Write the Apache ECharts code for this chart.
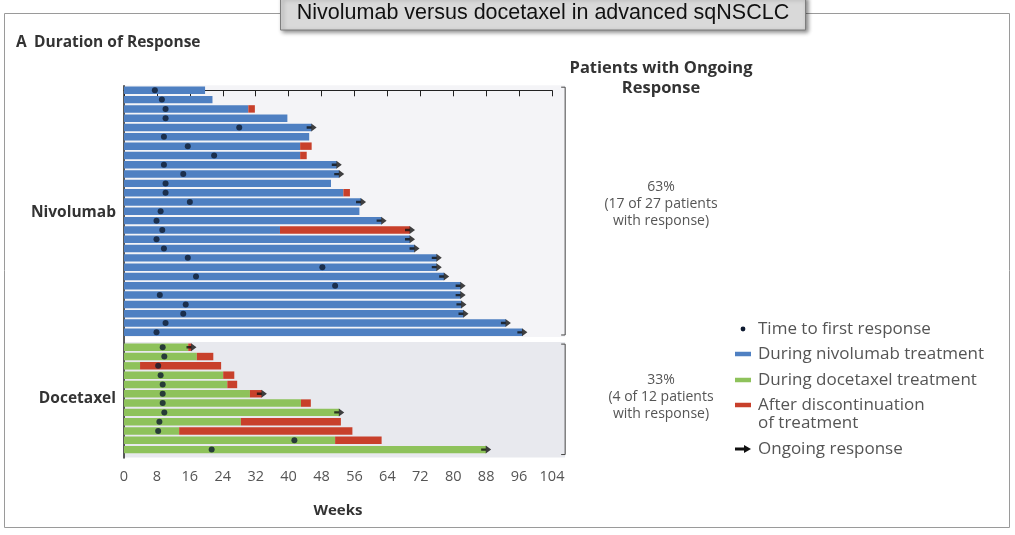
<!DOCTYPE html>
<html><head><meta charset="utf-8">
<script src="https://cdn.jsdelivr.net/npm/echarts@6/dist/echarts.min.js"></script>
<style>html,body{margin:0;padding:0;background:#fff}#c{width:1015px;height:535px}</style>
</head><body><div id="c"></div>
<script>
// ---- Nivolumab responders (27), top to bottom ----
const nivoFirstResponse = [7.5,9.2,10.1,10.1,28.0,9.7,15.5,21.9,9.7,14.4,10.1,10.1,16.0,8.9,7.9,9.3,7.9,9.7,15.5,48.2,17.5,51.3,8.7,15.0,14.4,10.1,7.9];
const nivoTreatmentEnd  = [19.7,21.5,30.2,39.7,45.6,45.0,42.8,42.8,51.7,52.3,50.3,53.3,57.6,57.2,62.6,37.9,69.5,70.6,76.0,76.0,77.8,81.8,81.8,82.0,82.5,92.8,96.8];
const nivoResponseEnd   = [19.7,21.5,31.8,39.7,45.6,45.0,45.6,44.4,51.7,52.3,50.3,54.9,57.6,57.2,62.6,69.5,69.5,70.6,76.0,76.0,77.8,81.8,81.8,82.0,82.5,92.8,96.8];
const nivoOngoing       = [0,0,0,0,1,0,0,0,1,1,0,0,1,0,1,1,1,1,1,1,1,1,1,1,1,1,1];
// ---- Docetaxel responders (12), top to bottom ----
const doceFirstResponse = [9.4,9.8,8.3,8.9,9.4,9.4,9.4,9.8,8.6,8.3,41.4,21.3];
const doceTreatmentEnd  = [15.6,17.7,3.9,24.1,25.1,30.6,43.0,52.3,28.4,13.4,51.3,88.0];
const doceResponseEnd   = [16.4,21.7,23.6,26.8,27.5,33.5,45.4,52.3,52.7,55.5,62.6,88.0];
const doceOngoing       = [1,0,0,0,0,1,0,1,0,0,0,1];
// ---- axis / text ----
const weekTicks = [0,8,16,24,32,40,48,56,64,72,80,88,96,104];
const groupLabels = ['Nivolumab','Docetaxel'];
const ongoingText = [['63%','(17 of 27 patients','with response)'],['33%','(4 of 12 patients','with response)']];
const legendLabels = ['Time to first response','During nivolumab treatment','During docetaxel treatment','After discontinuation\nof treatment','Ongoing response'];

const C_BLUE='#4f80c2', C_GREEN='#8ec25b', C_RED='#c8402b', C_DOT='#0e1a30';
const DOC_OFFSET = 27.6; // layout gap between the two groups, in row units

const barData=[], dotData=[], arrowData=[];
function addGroup(first, txEnd, respEnd, ongoing, offset, txColor){
  first.forEach((f,i)=>{
    const y = offset + i;
    barData.push([y, 0, txEnd[i], txColor]);
    if (respEnd[i] > txEnd[i]) barData.push([y, txEnd[i], respEnd[i], C_RED]);
    dotData.push([f, y]);
    if (ongoing[i]) arrowData.push([respEnd[i], y]);
  });
}
addGroup(nivoFirstResponse, nivoTreatmentEnd, nivoResponseEnd, nivoOngoing, 0, C_BLUE);
addGroup(doceFirstResponse, doceTreatmentEnd, doceResponseEnd, doceOngoing, DOC_OFFSET, C_GREEN);

const FONT = '"Open Sans", Lato, sans-serif';
const ARROW = 'path://M0,3.5 L6,3.5 L6,0 L13,5 L6,10 L6,6.5 L0,6.5 Z';

const chart = echarts.init(document.getElementById('c'));
chart.setOption({
  animation:false,
  backgroundColor:'#fff',
  grid:{left:124, width:428, top:85.65, height:372.35},
  xAxis:{type:'value', min:0, max:104, interval:8,
    axisLine:{lineStyle:{color:'#222', width:1}},
    axisTick:{length:6, lineStyle:{color:'#222'}},
    axisLabel:{color:'#555', fontSize:14.5, fontFamily:FONT, margin:11,
      formatter:v=>weekTicks.includes(v)?String(v):''},
    splitLine:{show:false},
    name:'Weeks', nameLocation:'middle', nameGap:45,
    nameTextStyle:{color:'#333', fontSize:15, fontWeight:'bold', fontFamily:FONT}},
  yAxis:{type:'value', inverse:true, min:-0.5, max:39.5,
    axisLine:{show:true, lineStyle:{color:'#222', width:1.5}},
    axisTick:{show:false}, axisLabel:{show:false}, splitLine:{show:false}},
  series:[
    {type:'custom', z:3, data:barData, encode:{x:[1,2], y:0},
      renderItem:(params, api)=>{
        const y=api.value(0), a=api.coord([api.value(1), y]), b=api.coord([api.value(2), y]);
        const h=api.size([0,1])[1]*0.8;
        return {type:'rect', shape:{x:a[0], y:a[1]-h/2, width:b[0]-a[0], height:h},
          style:{fill:barData[params.dataIndex][3]}};
      }},
    {type:'scatter', z:5, data:dotData, symbol:'circle', symbolSize:6,
      itemStyle:{color:C_DOT}},
    {type:'scatter', z:6, data:arrowData, symbol:ARROW, symbolSize:[10,8],
      itemStyle:{color:'#111'}}
  ]
});

// layout decorations placed through the axis scales
const px = (x,y)=>chart.convertToPixel({gridIndex:0},[x,y]);
const nTop=px(0,-0.55), nBot=px(107.2,26.5), dTop=px(0,27.05), dBot=px(107.2,39.45);
const nMid=px(0,13)[1], dMid=px(0,DOC_OFFSET+5.5)[1];
const g=[];
g.push({type:'rect', z:-10, shape:{x:4.5,y:13.5,width:1005,height:514}, style:{fill:'#fff',stroke:'#9a9a9a',lineWidth:1}});
g.push({type:'rect', z:-5, shape:{x:nTop[0],y:nTop[1],width:nBot[0]-nTop[0],height:nBot[1]-nTop[1]}, style:{fill:'#f4f4f7'}});
g.push({type:'rect', z:-5, shape:{x:dTop[0],y:dTop[1],width:dBot[0]-dTop[0],height:dBot[1]-dTop[1]}, style:{fill:'#e8e9ee'}});
[[nTop[1]+2,nBot[1]-2],[dTop[1]+2,dBot[1]-3]].forEach(([t,b])=>{
  const x=nBot[0];
  g.push({type:'polyline', z:10, shape:{points:[[x-4,t],[x,t],[x,b],[x-4,b]]}, style:{stroke:'#444',lineWidth:1,fill:null}});
});
// title box
g.push({type:'rect', z:20, shape:{x:280.5,y:-3,width:525,height:33}, style:{fill:'#d9d9d9',stroke:'#7d7d7d',lineWidth:1,shadowBlur:4,shadowOffsetX:2,shadowOffsetY:2,shadowColor:'rgba(0,0,0,0.45)'}});
g.push({type:'text', z:21, style:{text:'Nivolumab versus docetaxel in advanced sqNSCLC', x:543, y:13, align:'center', verticalAlign:'middle', font:'21.5px "Liberation Sans", Arial, sans-serif', fill:'#111'}});
// panel heading
g.push({type:'text', z:21, style:{text:'A', x:16, y:43, verticalAlign:'middle', font:'bold 15.5px '+FONT, fill:'#333'}});
g.push({type:'text', z:21, style:{text:'Duration of Response', x:34, y:43, verticalAlign:'middle', font:'bold 15.5px '+FONT, fill:'#333'}});
// group labels
g.push({type:'text', z:21, style:{text:groupLabels[0], x:116, y:nMid+1, align:'right', verticalAlign:'middle', font:'bold 15.5px '+FONT, fill:'#333'}});
g.push({type:'text', z:21, style:{text:groupLabels[1], x:116, y:dMid, align:'right', verticalAlign:'middle', font:'bold 15.5px '+FONT, fill:'#333'}});
// right header and percentages
g.push({type:'text', z:21, style:{text:'Patients with Ongoing\nResponse', x:661, y:78, align:'center', verticalAlign:'middle', lineHeight:20, font:'bold 16.5px '+FONT, fill:'#333'}});
g.push({type:'text', z:21, style:{text:ongoingText[0].join('\n'), x:661, y:204, align:'center', verticalAlign:'middle', lineHeight:17, font:'14px '+FONT, fill:'#555'}});
g.push({type:'text', z:21, style:{text:ongoingText[1].join('\n'), x:661, y:397, align:'center', verticalAlign:'middle', lineHeight:17, font:'14px '+FONT, fill:'#555'}});
// legend
const LX=743, TX=758, LY=[329,354,380,405,449];
g.push({type:'circle', z:21, shape:{cx:LX,cy:LY[0],r:2.4}, style:{fill:C_DOT}});
[C_BLUE,C_GREEN,C_RED].forEach((c,i)=>g.push({type:'line', z:21, shape:{x1:LX-8,y1:LY[i+1],x2:LX+8,y2:LY[i+1]}, style:{stroke:c,lineWidth:4.5}}));
g.push({type:'polygon', z:21, shape:{points:[[LX-8,LY[4]-1.5],[LX+1,LY[4]-1.5],[LX+1,LY[4]-4],[LX+8,LY[4]],[LX+1,LY[4]+4],[LX+1,LY[4]+1.5],[LX-8,LY[4]+1.5]]}, style:{fill:'#111'}});
legendLabels.forEach((t,i)=>{
  g.push({type:'text', z:21, style:{text:t, x:TX, y: i===3 ? LY[i]-9 : LY[i], verticalAlign: i===3?'top':'middle', lineHeight:18, font:'17px '+FONT, fill:'#555'}});
});
chart.setOption({graphic:g});
</script></body></html>
